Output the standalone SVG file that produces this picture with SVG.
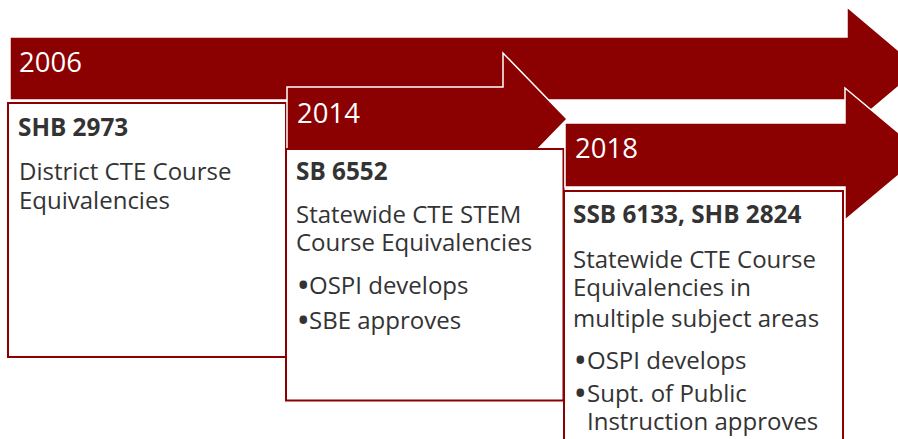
<svg xmlns="http://www.w3.org/2000/svg" width="898" height="439" viewBox="0 0 898 439">
  <style>
    .band { fill: #8B0000; stroke: #FFFFFF; stroke-width: 1.5; stroke-linejoin: miter; }
    .card { fill: #FFFFFF; stroke: #8B0000; stroke-width: 2; }
    .year { font-family: "Open Sans", "Noto Sans", sans-serif; font-size: 27.5px; fill: #FFFFFF; }
    .head { font-family: "Open Sans", "Noto Sans", sans-serif; font-size: 24.3px; font-weight: 700; fill: #333333; }
    .body { font-family: "Open Sans", "Noto Sans", sans-serif; font-size: 24px; fill: #333333; }
    .dot { font-size: 36px; }
  </style>

  <rect width="898" height="439" fill="#FFFFFF"/>

  <!-- Stage 1: 2006 -->
  <g id="stage-2006">
    <polygon class="band" points="10,37 847,37 847,7 920,68.5 847,130 847,100 10,100"/>
    <text class="year" x="19" y="72">2006</text>
    <rect class="card" x="8" y="103" width="278" height="254"/>
    <text class="head" x="18" y="136">SHB 2973</text>
    <text class="body" x="19" y="179.5">District CTE Course</text>
    <text class="body" x="19" y="208.5">Equivalencies</text>
  </g>

  <!-- Stage 2: 2014 -->
  <g id="stage-2014">
    <polygon class="band" points="287,87 503,87 503,53 567,119 503,185 503,151 287,151"/>
    <text class="year" x="297" y="122.7">2014</text>
    <rect class="card" x="286" y="149" width="277.5" height="251.5"/>
    <text class="head" x="296" y="180">SB 6552</text>
    <text class="body" x="296" y="222.5">Statewide CTE STEM</text>
    <text class="body" x="296" y="250.5">Course Equivalencies</text>
    <text class="body" y="294"><tspan class="dot" x="296.5" dy="4">•</tspan><tspan x="309" dy="-4">OSPI develops</tspan></text>
    <text class="body" y="329"><tspan class="dot" x="296.5" dy="4">•</tspan><tspan x="309" dy="-4">SBE approves</tspan></text>
  </g>

  <!-- Stage 3: 2018 -->
  <g id="stage-2018">
    <polygon class="band" points="565,123 845,123 845,88 924,154 845,220 845,187 565,187"/>
    <text class="year" x="575" y="158.3">2018</text>
    <rect class="card" x="564" y="191" width="279" height="262"/>
    <text class="head" x="573" y="223.3">SSB 6133, SHB 2824</text>
    <text class="body" x="573" y="268.3">Statewide CTE Course</text>
    <text class="body" x="573" y="296">Equivalencies in</text>
    <text class="body" x="573" y="326.7">multiple subject areas</text>
    <text class="body" y="369.3"><tspan class="dot" x="573.5" dy="4">•</tspan><tspan x="587" dy="-4">OSPI develops</tspan></text>
    <text class="body" y="401.7"><tspan class="dot" x="573.5" dy="4">•</tspan><tspan x="587" dy="-4">Supt. of Public</tspan></text>
    <text class="body" x="587" y="430">Instruction approves</text>
  </g>

  <g id="connectors"/>
</svg>
